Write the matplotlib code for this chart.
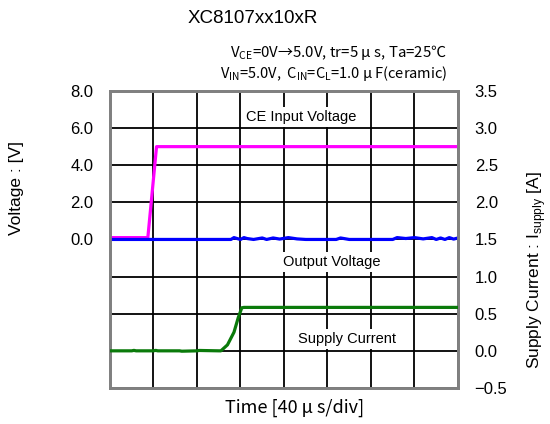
import numpy as np
import matplotlib
matplotlib.use("Agg")
import matplotlib.pyplot as plt
from matplotlib.ticker import FuncFormatter

plt.rcParams['font.family'] = ['Liberation Sans', 'Noto Sans CJK JP', 'DejaVu Sans']
JP = ['Noto Sans CJK JP', 'DejaVu Sans']

# time in divisions (40 us/div)
ce_t = [0.0, 0.87, 1.07, 8.0]
ce_v = [0.1, 0.1, 5.0, 5.0]

out_t = [0.0, 2.78, 2.85, 2.92, 3.0, 3.08, 3.15, 3.3, 3.5, 3.6, 3.75, 3.9, 4.1, 4.3, 4.5,
         5.2, 5.3, 5.5, 6.5, 6.6, 6.8, 7.0, 7.2, 7.4, 7.5, 7.6, 7.7, 7.8, 7.9, 8.0]
out_v = [0.0, 0.0, 0.1, 0.05, 0.0, 0.1, 0.05, 0.0, 0.08, 0.0, 0.08, 0.02, 0.1, 0.03, 0.0,
         0.0, 0.08, 0.0, 0.0, 0.1, 0.05, 0.1, 0.03, 0.1, 0.0, 0.08, 0.0, 0.1, 0.02, 0.08]

cur_t = [0.0, 0.5, 0.55, 0.6, 1.0, 1.05, 1.1, 1.6, 1.65, 2.0, 2.05, 2.5, 2.55, 2.7, 2.85, 2.95, 3.03, 3.08, 8.0]
cur_i = [0.0, 0.0, 0.006, 0.0, 0.0, 0.006, 0.0, 0.0, -0.005, 0.0, 0.005, 0.0, 0.0, 0.08, 0.25, 0.45, 0.58, 0.585, 0.585]

fig = plt.figure(figsize=(5.5, 4.24), dpi=100)
ax = fig.add_axes([0.2, 0.085, 0.6327, 0.7005])
ax2 = ax.twinx()

ax.set_xlim(0, 8)
ax.set_ylim(-8, 8)
ax2.set_ylim(-0.5, 3.5)
ax.set_xticks(np.arange(0, 9, 1))
ax.set_yticks(np.arange(-8, 9, 2))
ax2.set_yticks(np.arange(-0.5, 3.6, 0.5))
ax.xaxis.set_ticklabels([])
ax.yaxis.set_major_formatter(FuncFormatter(lambda v, p: f"{v:.1f}" if v >= 0 else ""))
ax2.yaxis.set_major_formatter(FuncFormatter(lambda v, p: f"{v:.1f}".replace("-", "\u2212")))
ax.tick_params(axis='both', length=0, labelsize=12, pad=12)
ax2.tick_params(axis='y', length=0, labelsize=12, pad=12)
ax.grid(True, color='black', lw=1.3)
ax.set_axisbelow(True)
for a in (ax, ax2):
    for s in a.spines.values():
        s.set_color('#808080')
        s.set_linewidth(2)

ax.plot(ce_t, ce_v, color='#ff00ff', lw=2.3, zorder=3)
ax.plot(out_t, out_v, color='#0000ff', lw=2.3, zorder=3)
ax2.plot(cur_t, cur_i, color='#0a7a0a', lw=2.3, zorder=3)

box = dict(facecolor='white', edgecolor='none', pad=2)
ax.text(4.4, 6.6, "CE Input Voltage", ha='center', va='center', fontsize=10.5, bbox=box, zorder=4)
ax.text(5.1, -1.2, "Output Voltage", ha='center', va='center', fontsize=10.5, bbox=box, zorder=4)
ax.text(5.44, -5.35, "Supply Current", ha='center', va='center', fontsize=10.5, bbox=box, zorder=4)

fig.text(0.46, 0.957, "XC8107xx10xR", ha='center', va='center', fontsize=13.5)
fig.text(0.813, 0.877, "V$_{\\mathregular{CE}}$=0V\u21925.0V, tr=5 \u03bc s, Ta=25\u2103",
         ha='right', va='center', fontsize=10.8, family=JP)
fig.text(0.813, 0.827, "V$_{\\mathregular{IN}}$=5.0V,  C$_{\\mathregular{IN}}$=C$_{\\mathregular{L}}$=1.0 \u03bc F(ceramic)",
         ha='right', va='center', fontsize=10.5, family=JP)

fig.text(0.03, 0.557, "Voltage : [V]", rotation=90, ha='center', va='center', fontsize=12.5)
fig.text(0.976, 0.363, "Supply Current : I$_{\\mathregular{supply}}$ [A]", rotation=90,
         ha='center', va='center', fontsize=12.5)
fig.text(0.536, 0.037, "Time [40 \u03bc s/div]", ha='center', va='center', fontsize=13, family=JP)

fig.savefig("out.png", dpi=100)
